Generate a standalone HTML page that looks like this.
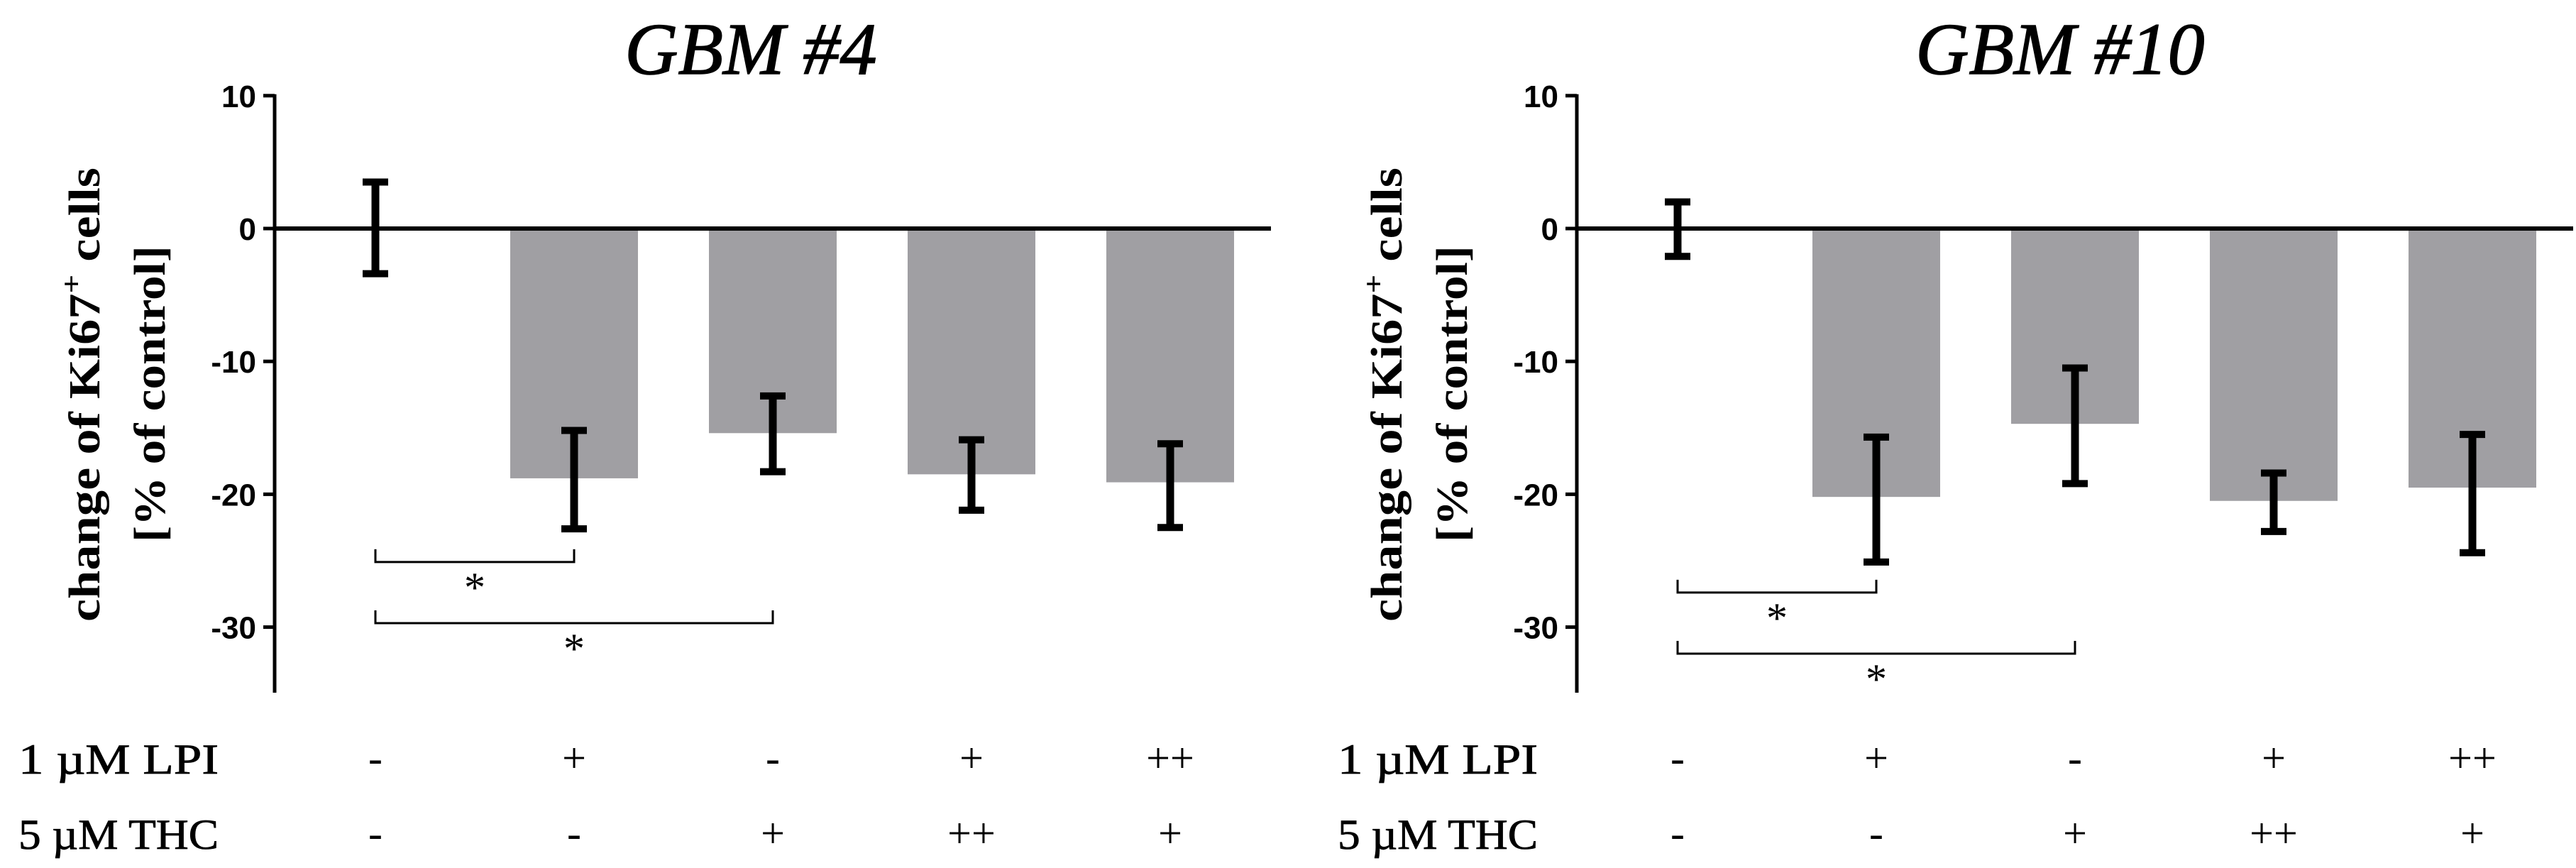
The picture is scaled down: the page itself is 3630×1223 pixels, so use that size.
<!DOCTYPE html>
<html><head><meta charset="utf-8"><style>
html,body{margin:0;padding:0;background:#fff;}
svg{display:block;}
</style></head><body>
<svg id="chart" width="3630" height="1223" viewBox="0 0 3630 1223" xmlns="http://www.w3.org/2000/svg"></svg>
<script>
// Panel data
const categories = ["control", "LPI", "THC", "LPI+THC(++)", "LPI(++)+THC"];
const lpiRow = ["-", "+", "-", "+", "++"];
const thcRow = ["-", "-", "+", "++", "+"];
const yTicks = [10, 0, -10, -20, -30];
const titles = ["GBM #4", "GBM #10"];
const gbm4Means = [0, -18.8, -15.4, -18.5, -19.1];
const gbm4Upper = [3.5, -15.2, -12.6, -15.9, -16.2];
const gbm4Lower = [-3.4, -22.6, -18.3, -21.2, -22.5];
const gbm10Means = [0, -20.2, -14.7, -20.5, -19.5];
const gbm10Upper = [2.0, -15.7, -10.5, -18.4, -15.5];
const gbm10Lower = [-2.1, -25.1, -19.2, -22.8, -24.4];
const gbm4Brackets = [[0, 1, -25.1], [0, 2, -29.7]];
const gbm10Brackets = [[0, 1, -27.4], [0, 2, -32.0]];

const svg = document.getElementById('chart');
const NS = 'http://www.w3.org/2000/svg';
function mk(tag, attrs, parent) {
  const e = document.createElementNS(NS, tag);
  for (const k in attrs) e.setAttribute(k, attrs[k]);
  (parent || svg).appendChild(e);
  return e;
}

function drawPanel(ox, title, means, upper, lower, brackets, idx) {
  const g = mk('g', {});
  
  
  const axisX = 387 + ox;
  const y = v => 322 - v * 18.72;
  const x = i => 529 + ox + i * 280;
  // title
  const t = mk('text', {x: 1058 + ox + (idx ? 10 : 0), y: 104, 'text-anchor': 'middle', 'font-family': '"Liberation Serif", serif', 'font-style': 'italic', 'font-size': 104, 'stroke': '#000', 'stroke-width': 1.5, fill: '#000'}, g);
  t.textContent = title;
  
  
  // bars
  means.forEach((m, i) => {
    if (m === 0) return;
    const r = mk('rect', {x: x(i) - 90, y: y(0), width: 180, height: y(m) - y(0), fill: '#a09fa3'}, g);
    
    
  });
  // y axis
  const ax = mk('line', {x1: axisX, x2: axisX, y1: y(10) - 2, y2: 976, stroke: '#000', 'stroke-width': 5}, g);
  
  
  yTicks.forEach(v => {
    mk('line', {x1: axisX - 16, x2: axisX, y1: y(v), y2: y(v), stroke: '#000', 'stroke-width': 5}, g);
    const tl = mk('text', {x: axisX - 26, y: y(v) + 16, 'text-anchor': 'end', 'font-family': '"Liberation Sans", sans-serif', 'font-weight': 'bold', 'font-size': 44, fill: '#000'}, g);
    tl.textContent = v;
    
    
  });
  // zero line
  const zl = mk('line', {x1: axisX, x2: 1791 + ox, y1: y(0), y2: y(0), stroke: '#000', 'stroke-width': 6}, g);
  
  
  // y title
  const yt = mk('text', {transform: `translate(${140 + ox},556) rotate(-90)`, 'text-anchor': 'middle', 'font-family': '"Liberation Serif", serif', 'font-weight': 'bold', 'font-size': 62, fill: '#000', textLength: 640, lengthAdjust: 'spacingAndGlyphs'}, g);
  yt.innerHTML = 'change of Ki67<tspan dy="-26" font-size="40">+</tspan><tspan dy="26">  cells</tspan>';
  
  
  const yt2 = mk('text', {transform: `translate(${232 + ox},555) rotate(-90)`, 'text-anchor': 'middle', 'font-family': '"Liberation Serif", serif', 'font-weight': 'bold', 'font-size': 62, fill: '#000', textLength: 418, lengthAdjust: 'spacingAndGlyphs'}, g);
  yt2.textContent = '[% of control]';
  
  
  // error bars
  means.forEach((m, i) => {
    const eg = mk('g', {stroke: '#000', 'stroke-width': 11}, g);
    
    
    mk('line', {x1: x(i), x2: x(i), y1: y(upper[i]), y2: y(lower[i])}, eg);
    mk('line', {x1: x(i) - 18, x2: x(i) + 18, y1: y(upper[i]), y2: y(upper[i]), 'stroke-width': 10}, eg);
    mk('line', {x1: x(i) - 18, x2: x(i) + 18, y1: y(lower[i]), y2: y(lower[i]), 'stroke-width': 10}, eg);
  });
  // significance brackets
  brackets.forEach((b, k) => {
    const bg = mk('g', {}, g);
    
    
    const yy = y(b[2]);
    mk('path', {d: `M${x(b[0])},${yy - 18} V${yy} H${x(b[1])} V${yy - 18}`, fill: 'none', stroke: '#000', 'stroke-width': 3}, bg);
    const st = mk('text', {x: (x(b[0]) + x(b[1])) / 2, y: yy + 56, 'text-anchor': 'middle', 'font-family': '"Liberation Serif", serif', 'font-size': 60, fill: '#000'}, bg);
    st.textContent = '*';
  });
  // treatment rows
  [[lpiRow, '1 \u00b5M LPI', 1090, 'lpi'], [thcRow, '5 \u00b5M THC', 1196, 'thc']].forEach(([row, lab, by, nm]) => {
    const lt = mk('text', {x: 26 + ox + (idx ? 24 : 0), y: by, 'font-family': '"Liberation Serif", serif', 'font-size': 60, fill: '#000', stroke: '#000', 'stroke-width': 0.8, textLength: 282, lengthAdjust: 'spacingAndGlyphs'}, g);
    lt.textContent = lab;
    
    
    row.forEach((s, i) => {
      const st = mk('text', {x: x(i), y: by - 2, 'text-anchor': 'middle', 'font-family': '"Liberation Serif", serif', 'font-size': 60, fill: '#000'}, g);
      st.textContent = s;
      
      
    });
  });
}
drawPanel(0, titles[0], gbm4Means, gbm4Upper, gbm4Lower, gbm4Brackets, 0);
drawPanel(1835, titles[1], gbm10Means, gbm10Upper, gbm10Lower, gbm10Brackets, 1);
</script>
</body></html>
